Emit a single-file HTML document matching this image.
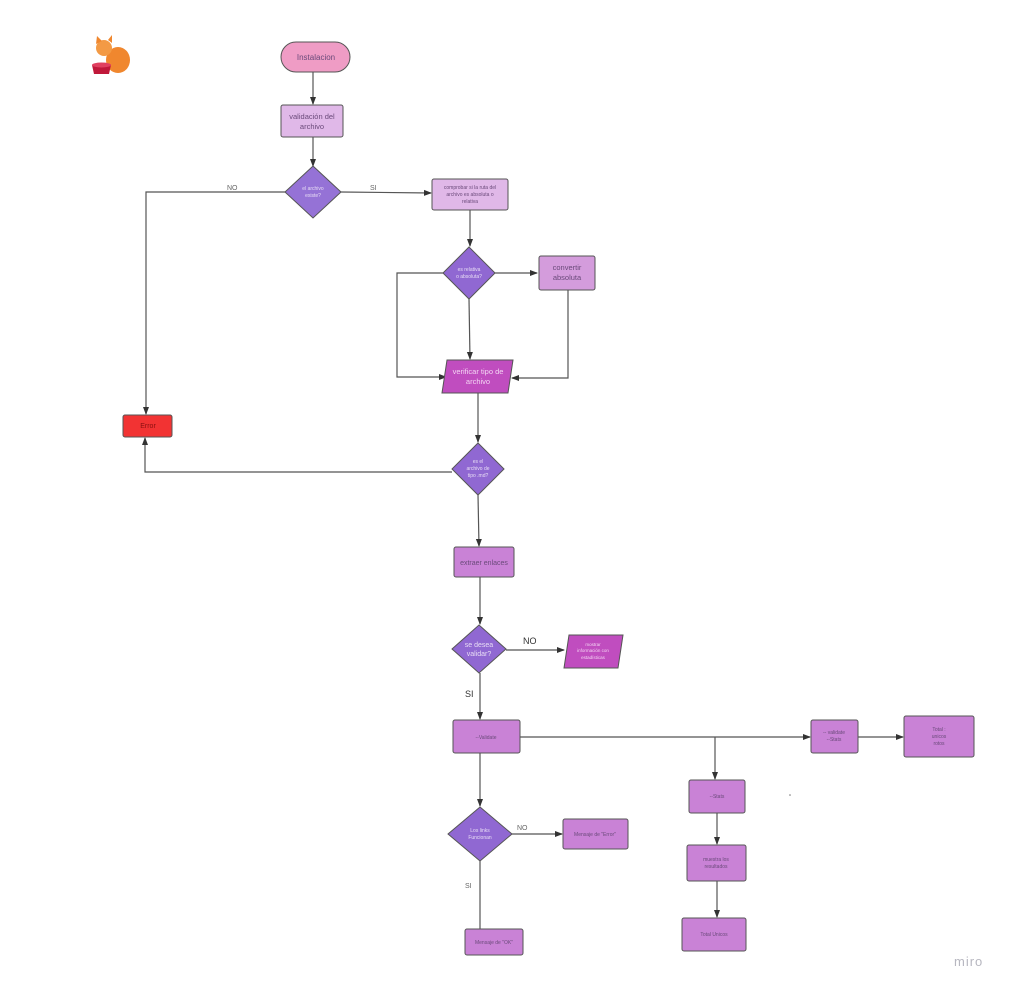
<!DOCTYPE html>
<html><head><meta charset="utf-8"><style>
html,body{margin:0;padding:0;background:#fff;}
svg{display:block;font-family:"Liberation Sans",sans-serif;}
</style></head><body>
<svg width="1010" height="989" viewBox="0 0 1010 989" xmlns="http://www.w3.org/2000/svg">
<defs><marker id="a" markerWidth="8" markerHeight="8" refX="7" refY="4" orient="auto" markerUnits="userSpaceOnUse"><path d="M0,1 L8,4 L0,7 z" fill="#333"/></marker></defs>
<g stroke="#555" stroke-width="1.2" fill="none">
<path d="M313,72 V104" marker-end="url(#a)"/>
<path d="M313,137 V166" marker-end="url(#a)"/>
<path d="M285,192 H146 V414" marker-end="url(#a)"/>
<path d="M341,192 L431,193" marker-end="url(#a)"/>
<path d="M470,210 V246" marker-end="url(#a)"/>
<path d="M495,273 H537" marker-end="url(#a)"/>
<path d="M469,299 L470,359" marker-end="url(#a)"/>
<path d="M443,273 H397 V377 H446" marker-end="url(#a)"/>
<path d="M568,290 V378 H512" marker-end="url(#a)"/>
<path d="M478,393 V442" marker-end="url(#a)"/>
<path d="M452,472 H145 V438" marker-end="url(#a)"/>
<path d="M478,495 L479,546" marker-end="url(#a)"/>
<path d="M480,577 V624" marker-end="url(#a)"/>
<path d="M506,650 H564" marker-end="url(#a)"/>
<path d="M480,673 V719" marker-end="url(#a)"/>
<path d="M520,737 H810" marker-end="url(#a)"/>
<path d="M858,737 H903" marker-end="url(#a)"/>
<path d="M715,737 V779" marker-end="url(#a)"/>
<path d="M717,813 V844" marker-end="url(#a)"/>
<path d="M717,881 V917" marker-end="url(#a)"/>
<path d="M480,753 V806" marker-end="url(#a)"/>
<path d="M512,834 H562" marker-end="url(#a)"/>
<path d="M480,861 V929"/>
</g>
<g stroke="#555" stroke-width="1">
<rect x="281" y="42" width="69" height="30" rx="15" fill="#ef9cc5"/>
<rect x="281" y="105" width="62" height="32" rx="2" fill="#e0b8e8"/>
<polygon points="313,166 341,192 313,218 285,192" fill="#9572d6"/>
<rect x="432" y="179" width="76" height="31" rx="2" fill="#e0b8e8"/>
<polygon points="469,247 495,273 469,299 443,273" fill="#9068d2"/>
<rect x="539" y="256" width="56" height="34" rx="2" fill="#d49cdc"/>
<polygon points="447,360 513,360 508,393 442,393" fill="#c04dbf"/>
<rect x="123" y="415" width="49" height="22" rx="2" fill="#f23333"/>
<polygon points="478,443 504,469 478,495 452,469" fill="#9068d2"/>
<rect x="454" y="547" width="60" height="30" rx="2" fill="#c982d6"/>
<polygon points="479,625 506,649 479,673 452,649" fill="#9068d2"/>
<polygon points="569,635 623,635 618,668 564,668" fill="#c04dbf"/>
<rect x="453" y="720" width="67" height="33" rx="2" fill="#c982d6"/>
<rect x="811" y="720" width="47" height="33" rx="2" fill="#c982d6"/>
<rect x="904" y="716" width="70" height="41" rx="2" fill="#c982d6"/>
<rect x="689" y="780" width="56" height="33" rx="2" fill="#c982d6"/>
<rect x="687" y="845" width="59" height="36" rx="2" fill="#c982d6"/>
<rect x="682" y="918" width="64" height="33" rx="2" fill="#c982d6"/>
<polygon points="480,807 512,834 480,861 448,834" fill="#9068d2"/>
<rect x="563" y="819" width="65" height="30" rx="2" fill="#c982d6"/>
<rect x="465" y="929" width="58" height="26" rx="2" fill="#c982d6"/>
</g>
<g fill="#6a4a7a" text-anchor="middle">
<text x="316" y="60" font-size="8">Instalacion</text>
<text x="312" y="119" font-size="7.5">validación del</text>
<text x="312" y="129" font-size="7.5">archivo</text>
<text x="313" y="190" font-size="5" fill="#e8ddf5">el archivo</text>
<text x="313" y="197" font-size="5" fill="#e8ddf5">existe?</text>
<text x="470" y="189" font-size="5">comprobar si la ruta del</text>
<text x="470" y="196" font-size="5">archivo es absoluta o</text>
<text x="470" y="203" font-size="5">relativa</text>
<text x="469" y="271" font-size="5" fill="#e8ddf5">es relativa</text>
<text x="469" y="278" font-size="5" fill="#e8ddf5">o absoluta?</text>
<text x="567" y="270" font-size="7.5">convertir</text>
<text x="567" y="280" font-size="7.5">absoluta</text>
<text x="478" y="374" font-size="7.5" fill="#f3d5f3">verificar tipo de</text>
<text x="478" y="384" font-size="7.5" fill="#f3d5f3">archivo</text>
<text x="148" y="428" font-size="7" fill="#8a1010">Error</text>
<text x="478" y="463" font-size="5" fill="#e8ddf5">es el</text>
<text x="478" y="470" font-size="5" fill="#e8ddf5">archivo de</text>
<text x="478" y="477" font-size="5" fill="#e8ddf5">tipo .md?</text>
<text x="484" y="565" font-size="7">extraer enlaces</text>
<text x="479" y="647" font-size="7" fill="#e8ddf5">se desea</text>
<text x="479" y="656" font-size="7" fill="#e8ddf5">validar?</text>
<text x="593" y="646" font-size="4.5" fill="#f3d5f3">mostrar</text>
<text x="593" y="652" font-size="4.5" fill="#f3d5f3">información con</text>
<text x="593" y="659" font-size="4.5" fill="#f3d5f3">estadísticas</text>
<text x="486" y="739" font-size="5">--Validate</text>
<text x="834" y="734" font-size="5">-- validate</text>
<text x="834" y="741" font-size="5">--Stats</text>
<text x="939" y="731" font-size="5">Total :</text>
<text x="939" y="738" font-size="5">unicos</text>
<text x="939" y="745" font-size="5">rotos</text>
<text x="717" y="798" font-size="5">--Stats</text>
<text x="716" y="861" font-size="5">muestra los</text>
<text x="716" y="868" font-size="5">resultados</text>
<text x="714" y="936" font-size="5">Total Unicos</text>
<text x="480" y="832" font-size="5" fill="#e8ddf5">Los links</text>
<text x="480" y="839" font-size="5" fill="#e8ddf5">Funcionan</text>
<text x="595" y="836" font-size="5">Mensaje de "Error"</text>
<text x="494" y="944" font-size="5">Mensaje de "OK"</text>
</g>
<g fill="#666" font-size="7">
<text x="227" y="190">NO</text>
<text x="370" y="190">SI</text>
<text x="523" y="644" font-size="9" fill="#333">NO</text>
<text x="465" y="697" font-size="9" fill="#333">SI</text>
<text x="517" y="830">NO</text>
<text x="465" y="888">SI</text>
</g>
<circle cx="790" cy="795" r="0.8" fill="#777"/>
<text x="954" y="966" font-size="13" fill="#b7b7c0" letter-spacing="1">miro</text>
<!-- cat -->
<g>
<ellipse cx="118" cy="60" rx="12" ry="13" fill="#f0872e"/>
<circle cx="104" cy="48" r="8" fill="#f39a45"/>
<polygon points="96,44 97,36 102,41" fill="#f0872e"/>
<polygon points="108,40 112,35 112,43" fill="#f0872e"/>
<path d="M92,65 h19 l-2,9 h-15 z" fill="#c0183a"/>
<ellipse cx="101.5" cy="65" rx="9.5" ry="2.5" fill="#e04060"/>
</g>
</svg>
</body></html>
